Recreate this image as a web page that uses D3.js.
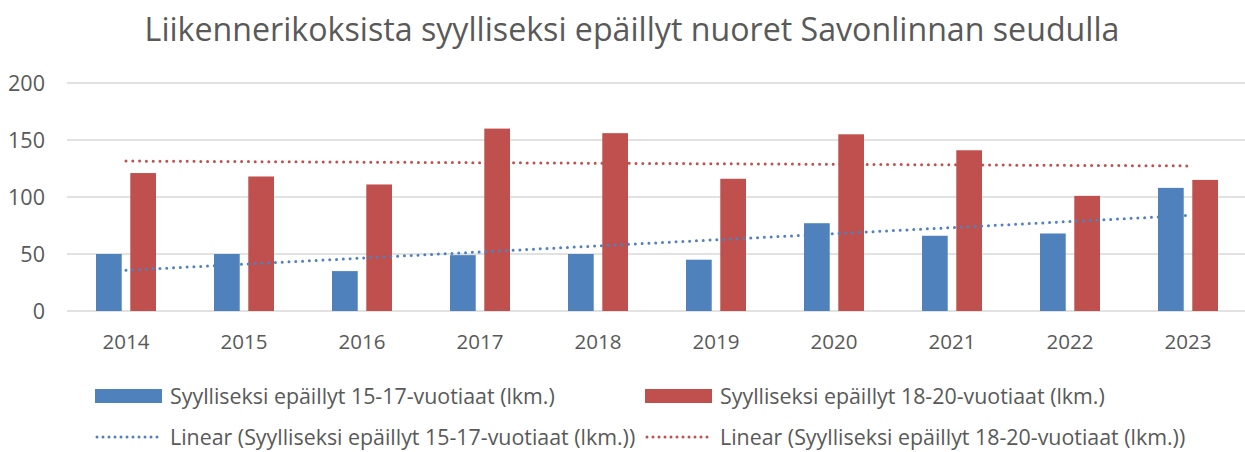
<html>
<style>
  body { margin: 0; background: #fff; font-family: "Open Sans", Arial, sans-serif; }
  svg text { fill: #595959; }
</style>
<script src="https://d3js.org/d3.v7.min.js"></script>
<body>
<svg id="chart" width="1245" height="452"></svg>
</body>
<script>
  // data
  const years = ["2014","2015","2016","2017","2018","2019","2020","2021","2022","2023"]
  const youngValues = [50, 50, 35, 49, 50, 45, 77, 66, 68, 108]
  const olderValues = [121, 118, 111, 160, 156, 116, 155, 141, 101, 115]
  const seriesNames = ["Syylliseksi epäillyt 15-17-vuotiaat (lkm.)", "Syylliseksi epäillyt 18-20-vuotiaat (lkm.)"]
  const yTicks = [0, 50, 100, 150, 200]
  const colors = ["#4F81BD", "#C0504D"]
  const title = "Liikennerikoksista syylliseksi epäillyt nuoret Savonlinnan seudulla"

  const svg = d3.select('#chart')

  // shrink/grow font so a text gets the width it has in the picture
  function fit(sel, target) {
    sel.each(function() {
      let fs = parseFloat(this.style.fontSize)
      let w = this.getComputedTextLength()
      this.style.fontSize = (fs * target / w).toFixed(2) + "px"
    })
  }

  const x = d3.scaleBand().domain(years).range([67, 1247]).padding(0)
  const inner = d3.scaleBand().domain([0, 1]).range([-30, 30]).paddingInner(0.25)
  const y = d3.scaleLinear().domain([0, 200]).range([311, 83])

  // title
  svg.append("text")
      .attr("x", 632).attr("y", 41)
      .attr("text-anchor", "middle")
      .style("font-size", "27px")
      .text(title)
      .call(fit, 975)

  // gridlines
  svg.append("g").selectAll("line").data(yTicks)
    .enter().append("line")
      .attr("x1", 67).attr("x2", 1247)
      .attr("y1", d => y(d)).attr("y2", d => y(d))
      .attr("stroke", "#D9D9D9")
      .attr("stroke-width", 1.5)

  // y labels
  let yl = svg.append("g").selectAll("text").data(yTicks)
    .enter().append("text")
      .attr("x", 45).attr("y", d => y(d))
      .attr("dy", "0.36em")
      .attr("text-anchor", "end")
      .style("font-size", "18px")
      .text(d => d)
  fit(yl.filter(d => d == 200), 37)
  yl.style("font-size", yl.filter(d => d == 200).style("font-size"))

  // x labels
  let xl = svg.append("g").selectAll("text").data(years)
    .enter().append("text")
      .attr("x", d => x(d) + x.bandwidth() / 2).attr("y", 349)
      .attr("text-anchor", "middle")
      .style("font-size", "18px")
      .text(d => d)
  fit(xl.filter(d => d == "2014"), 47)
  xl.style("font-size", xl.filter(d => d == "2014").style("font-size"))

  // bars
  const series = [youngValues, olderValues]
  series.forEach((vals, si) => {
    svg.append("g").selectAll("rect").data(vals)
      .enter().append("rect")
        .attr("x", (d, i) => x(years[i]) + x.bandwidth() / 2 + inner(si))
        .attr("width", inner.bandwidth())
        .attr("y", d => y(d))
        .attr("height", d => y(0) - y(d))
        .attr("fill", colors[si])
  })

  // linear trend lines (least squares of each series)
  function trend(vals) {
    let n = vals.length
    let xs = vals.map((d, i) => i + 1)
    let mx = d3.mean(xs), my = d3.mean(vals)
    let sxy = d3.sum(xs, (xi, i) => (xi - mx) * (vals[i] - my))
    let sxx = d3.sum(xs, xi => (xi - mx) * (xi - mx))
    let b = sxy / sxx, a = my - b * mx
    return [a + b * 1, a + b * n]
  }
  series.forEach((vals, si) => {
    let [y0, y1] = trend(vals)
    svg.append("line")
      .attr("x1", x(years[0]) + x.bandwidth() / 2)
      .attr("x2", x(years[years.length - 1]) + x.bandwidth() / 2)
      .attr("y1", y(y0)).attr("y2", y(y1))
      .attr("stroke", colors[si])
      .attr("stroke-width", 3)
      .attr("stroke-linecap", "round")
      .attr("stroke-dasharray", "0,6.8")
  })

  // legend
  const legend = [
    {kind: "bar", color: colors[0], label: seriesNames[0], x: 95, y: 396},
    {kind: "bar", color: colors[1], label: seriesNames[1], x: 645, y: 396},
    {kind: "line", color: colors[0], label: "Linear (" + seriesNames[0] + ")", x: 95, y: 437},
    {kind: "line", color: colors[1], label: "Linear (" + seriesNames[1] + ")", x: 645, y: 437}
  ]
  let legendSize = null
  legend.forEach(l => {
    let g = svg.append("g")
    if (l.kind == "bar") {
      g.append("rect").attr("x", l.x).attr("y", l.y - 7).attr("width", 67).attr("height", 14).attr("fill", l.color)
    } else {
      g.append("line").attr("x1", l.x + 2).attr("x2", l.x + 66).attr("y1", l.y).attr("y2", l.y)
        .attr("stroke", l.color).attr("stroke-width", 3)
        .attr("stroke-linecap", "round").attr("stroke-dasharray", "0,6")
    }
    let t = g.append("text")
      .attr("x", l.x + 75).attr("y", l.y)
      .attr("dy", "0.36em")
      .style("font-size", "17px")
      .text(l.label)
    if (!legendSize) { fit(t, 385); legendSize = t.style("font-size") }
    t.style("font-size", legendSize)
  })
</script>
</html>
